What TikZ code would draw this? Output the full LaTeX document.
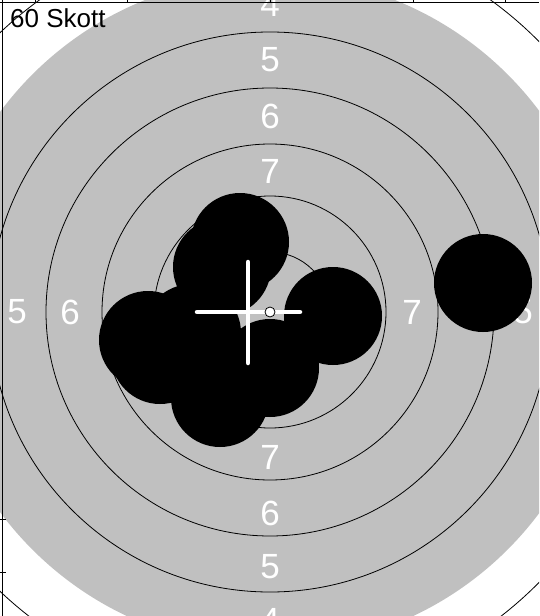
\documentclass[tikz,border=0pt]{standalone}
\usepackage{fontspec}
\setmainfont{Liberation Sans}
\definecolor{ringgray}{RGB}{192,192,192}

\begin{document}
\begin{tikzpicture}[x=1pt, y=-1pt,
    ringnum/.style={text=white, inner sep=0pt, font=\fontsize{35}{35}\selectfont},
    ringline/.style={line width=0.8pt}]
    \useasboundingbox (0,0) rectangle (539,616);
    \clip (0,0) rectangle (539,616);
    \coordinate (centre) at (270,312);
    \coordinate (mpi) at (248,312);

    % 靶面
    \fill[ringgray] (centre) circle[radius=336pt];
    \foreach \r in {60,116,168,224,280}
        \draw[ringline] (centre) circle[radius=\r pt];
    \draw[ringline] (265,312) circle[radius=385pt];

    % 环数
    \node[ringnum] (top4) at (270,4) {4};
    \node[ringnum] (top5) at (270,60) {5};
    \node[ringnum] (top6) at (270,116) {6};
    \node[ringnum] (top7) at (270,171) {7};
    \node[ringnum] (bot7) at (270,457) {7};
    \node[ringnum] (bot6) at (270,513) {6};
    \node[ringnum] (bot5) at (270,567) {5};
    \node[ringnum] (bot4) at (270,620) {4};
    \node[ringnum] (left5) at (17,312) {5};
    \node[ringnum] (left6) at (70,312) {6};
    \node[ringnum] (right7) at (412,312) {7};
    \node[ringnum] (right5) at (523,312) {5};

    % 弹孔
    \foreach \x/\y in {240/242, 222/267, 333/316, 148/340, 160/355, 192/333, 220/398, 270/368, 483/283}
        \fill (\x,\y) circle[radius=49pt];

    % 平均弹着点
    \draw[white, line width=4.5pt, line cap=round] ([xshift=-51pt]mpi) -- ([xshift=52pt]mpi);
    \draw[white, line width=4.5pt, line cap=round] ([yshift=50pt]mpi) -- ([yshift=-51pt]mpi);
    \draw[fill=white, line width=0.8pt] (centre) circle[radius=5pt];

    % 边框
    \draw[line width=1.3pt] (0,2.5) -- (539,2.5);
    \draw[line width=1.3pt] (2.5,0) -- (2.5,616);
    \foreach \x in {35,127,270,413,505}
        \draw[line width=0.8pt] (\x,0) -- (\x,2.5);
    \foreach \y in {519,572}
        \draw[line width=0.8pt] (0,\y) -- (6,\y);
    \node[anchor=west, inner sep=0pt, font=\fontsize{26}{26}\selectfont] (count) at (10,18) {60 Skott};
\end{tikzpicture}
\end{document}
